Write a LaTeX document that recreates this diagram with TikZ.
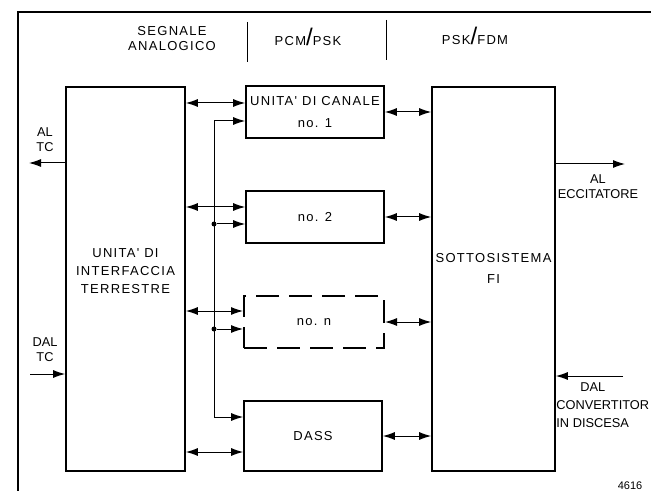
\documentclass[tikz,border=0pt]{standalone}
\usepackage{fontspec}
\setmainfont{Liberation Sans}
\newfontfamily\spacedfont{Liberation Sans}[LetterSpace=10]
\usetikzlibrary{arrows.meta}
\newcommand{\tallslash}{{\fontsize{12}{12}\selectfont/}}

\begin{document}
\begin{tikzpicture}[x=0.5pt,y=-0.5pt,
  box/.style={draw,line width=0.8pt,inner sep=0pt,align=center,
    font=\spacedfont\fontsize{6.5}{11}\selectfont},
  txt/.style={align=center,inner sep=0pt,font=\spacedfont\fontsize{6.5}{9}\selectfont},
  lbl/.style={align=center,inner sep=0pt,font=\fontsize{6.4}{7.5}\selectfont},
  sig/.style={line width=0.5pt,-{Latex[length=6pt,width=4pt]}},
  both/.style={line width=0.5pt,{Latex[length=6pt,width=4pt]}-{Latex[length=6pt,width=4pt]}},
  dot/.style={circle,fill,inner sep=0pt,minimum size=2.5pt}]
\useasboundingbox (0,0) rectangle (651,491);

% frame and header
\draw[line width=0.7pt] (651,12) -- (18,12) -- (18,491);
\node[txt,font=\spacedfont\fontsize{6.5}{7.5}\selectfont] (analog) at (172,39) {SEGNALE\\ANALOGICO};
\draw[line width=0.5pt] (247,22) -- (247,62);
\node[txt] (pcm) at (308,37) {PCM\tallslash PSK};
\draw[line width=0.5pt] (386,20) -- (386,60);
\node[txt] (fdm) at (475,36) {PSK\tallslash FDM};

% blocks
\node[box,minimum width=59.5pt,minimum height=192pt] (iu) at (125.5,279) {};
\node[txt] (iutext) at (125.5,271) {UNITA' DI\\INTERFACCIA\\TERRESTRE};

\node[box,minimum width=69pt,minimum height=26pt] (ch1) at (315,112) {UNITA' DI CANALE\\no. 1};
\node[box,minimum width=69pt,minimum height=26pt] (ch2) at (315,217) {no. 2};
\node[box,minimum width=70pt,minimum height=26pt,line width=1pt,dash pattern=on 11.5pt off 5pt] (chn) at (314,322) {no. n};
\node[box,minimum width=69pt,minimum height=35pt] (dass) at (313,436) {DASS};

\node[box,minimum width=61.5pt,minimum height=192pt] (ss) at (493.5,279) {};
\node[txt,font=\spacedfont\fontsize{6.5}{10.5}\selectfont] (sstext) at (493.5,268) {SOTTOSISTEMA\\FI};

% interface <-> channels
\draw[both] (iu.east |- 0,103) -- (ch1.west |- 0,103);
\draw[both] (iu.east |- 0,207) -- (ch2.west |- 0,207);
\draw[both] (iu.east |- 0,311) -- (chn.west |- 0,311);
\draw[both] (iu.east |- 0,452) -- (dass.west |- 0,452);

% common line
\coordinate (bus) at (214,121);
\draw[sig] (bus) -- (bus -| ch1.west);
\draw[sig] (bus) |- (dass.west |- 0,417);
\node[dot] (j2) at (214,224) {};
\draw[sig] (j2) -- (j2 -| ch2.west);
\node[dot] (jn) at (214,329) {};
\draw[sig] (jn) -- (jn -| chn.west);

% channels <-> FI
\foreach \n in {ch1,ch2,chn,dass}
  \draw[both] (\n.east) -- (\n.east -| ss.west);

% outside
\coordinate (altc) at (29,163);
\draw[sig] (altc -| iu.west) -- (altc);
\node[lbl] (altctext) at (45,140) {AL\\TC};
\coordinate (daltc) at (30,374);
\draw[sig] (daltc) -- (daltc -| iu.west);
\node[lbl] (daltctext) at (45,350) {DAL\\TC};

\coordinate (alecc) at (625,164);
\draw[sig] (alecc -| ss.east) -- (alecc);
\node[lbl] (alecctext) at (598,187) {AL\\ECCITATORE};
\coordinate (dalconv) at (623,376);
\draw[sig] (dalconv) -- (dalconv -| ss.east);
\node[lbl,align=left,anchor=west,font=\fontsize{6.4}{9}\selectfont] (dalconvtext) at (556,405) {\hspace*{12pt}DAL\\CONVERTITOR\\IN DISCESA};

\node[inner sep=0pt,font=\fontsize{5.5}{5.5}\selectfont] (fignum) at (630,486) {4616};
\end{tikzpicture}
\end{document}
